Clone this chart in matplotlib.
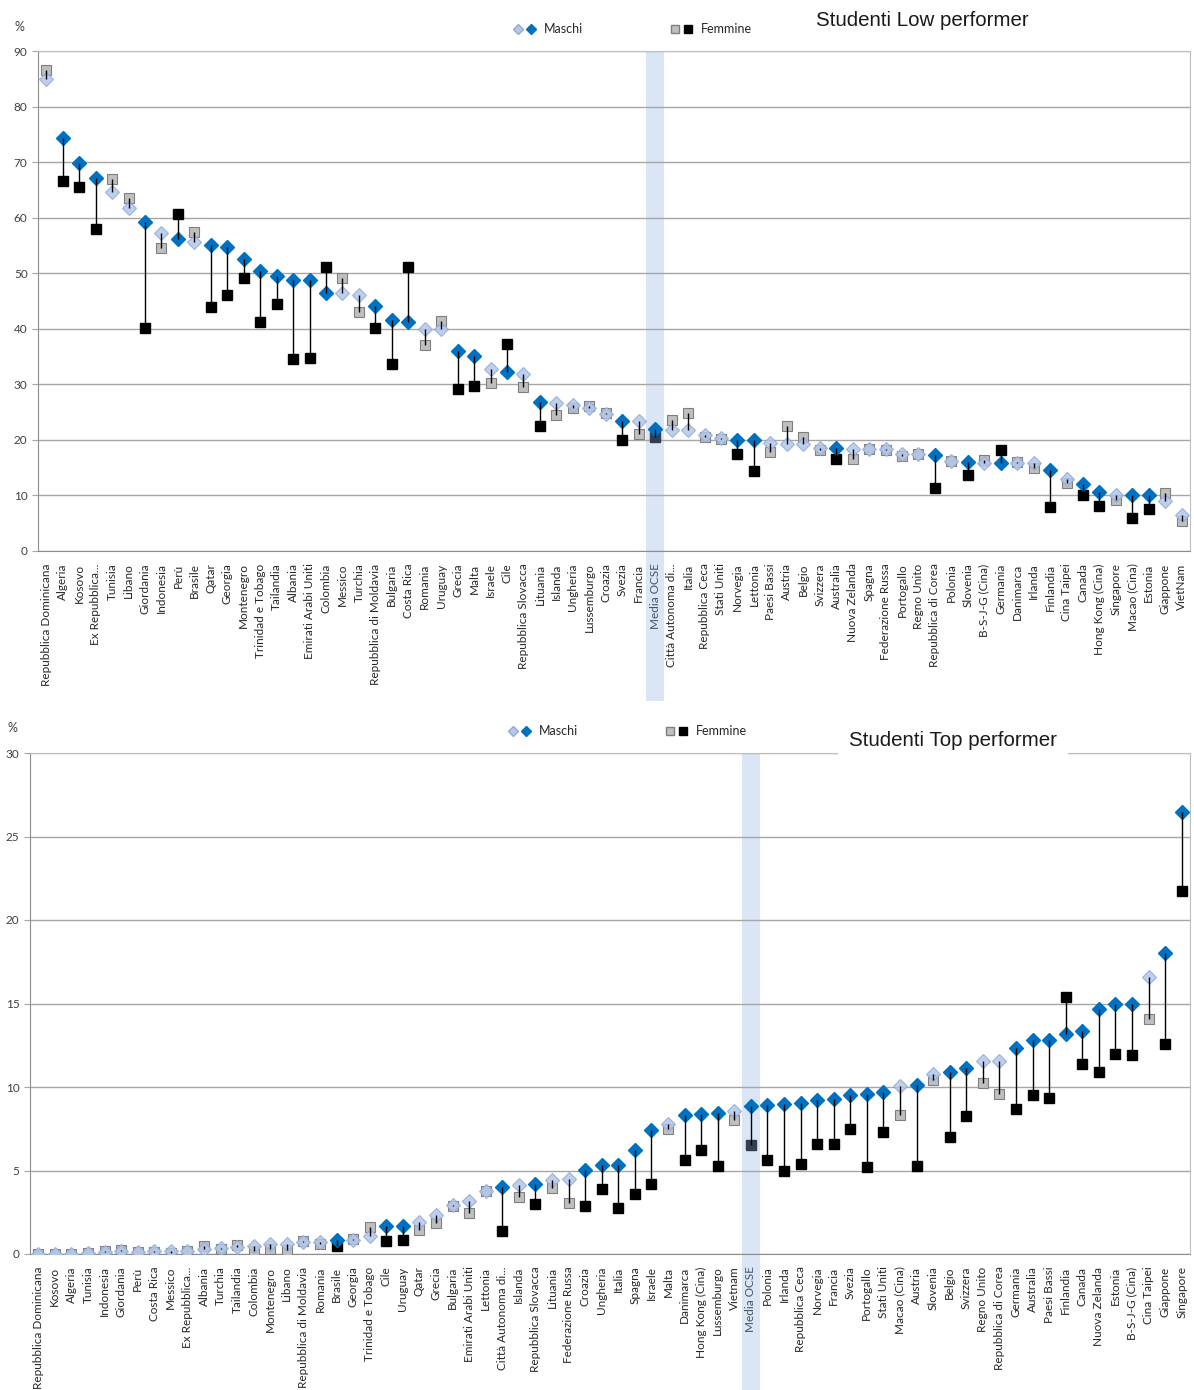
import matplotlib
matplotlib.use("Agg")
import matplotlib.pyplot as plt
from matplotlib.lines import Line2D
from matplotlib.legend_handler import HandlerTuple
from matplotlib.patches import Rectangle
from matplotlib.transforms import blended_transform_factory

# --- Studenti Low performer ---
low_paesi = ["Repubblica Dominicana", "Algeria", "Kosovo", "Ex Repubblica...", "Tunisia", "Libano",
             "Giordania", "Indonesia", "Perù", "Brasile", "Qatar", "Georgia", "Montenegro",
             "Trinidad e Tobago", "Tailandia", "Albania", "Emirati Arabi Uniti", "Colombia", "Messico",
             "Turchia", "Repubblica di Moldavia", "Bulgaria", "Costa Rica", "Romania", "Uruguay",
             "Grecia", "Malta", "Israele", "Cile", "Repubblica Slovacca", "Lituania", "Islanda",
             "Ungheria", "Lussemburgo", "Croazia", "Svezia", "Francia", "Media OCSE",
             "Città Autonoma di...", "Italia", "Repubblica Ceca", "Stati Uniti", "Norvegia", "Lettonia",
             "Paesi Bassi", "Austria", "Belgio", "Svizzera", "Australia", "Nuova Zelanda", "Spagna",
             "Federazione Russa", "Portogallo", "Regno Unito", "Repubblica di Corea", "Polonia",
             "Slovenia", "B-S-J-G (Cina)", "Germania", "Danimarca", "Irlanda", "Finlandia",
             "Cina Taipei", "Canada", "Hong Kong (Cina)", "Singapore", "Macao (Cina)", "Estonia",
             "Giappone", "VietNam"]
low_maschi = [84.9, 74.4, 69.8, 67.1, 64.6, 61.7, 59.2, 57.3, 56.2, 55.7, 55.1, 54.8, 52.5, 50.4,
              49.5, 48.8, 48.8, 46.4, 46.5, 46.0, 44.1, 41.5, 41.2, 40.0, 40.0, 36.0, 35.1, 32.8,
              32.3, 31.9, 26.9, 26.6, 26.2, 25.8, 24.6, 23.4, 23.4, 21.9, 21.8, 21.7, 20.8, 20.3,
              20.0, 20.0, 19.4, 19.2, 19.2, 18.5, 18.5, 18.4, 18.3, 18.3, 17.5, 17.4, 17.2, 16.2,
              16.0, 15.9, 15.9, 15.9, 15.8, 14.6, 12.9, 12.0, 10.7, 10.1, 10.1, 10.0, 9.0, 6.5]
low_femmine = [86.6, 66.6, 65.6, 58.0, 67.0, 63.5, 40.1, 54.6, 60.7, 57.5, 43.9, 46.1, 49.2, 41.3,
               44.4, 34.5, 34.8, 51.2, 49.1, 43.0, 40.2, 33.6, 51.2, 37.1, 41.4, 29.2, 29.7, 30.2,
               37.2, 29.6, 22.5, 24.4, 25.8, 26.1, 24.8, 20.0, 21.0, 20.5, 23.6, 24.9, 20.5, 20.2,
               17.4, 14.4, 17.9, 22.5, 20.5, 18.2, 16.5, 16.6, 18.3, 18.2, 17.1, 17.4, 11.3, 16.2,
               13.7, 16.4, 18.1, 16.0, 15.0, 8.0, 12.3, 10.0, 8.1, 9.2, 5.9, 7.5, 10.4, 5.4]
# 1 = differenza significativa (marcatori pieni), 0 = non significativa (marcatori chiari)
low_sig = [0, 1, 1, 1, 0, 0, 1, 0, 1, 0, 1, 1, 1, 1, 1, 1, 1, 1, 0, 0, 1, 1, 1, 0, 0, 1, 1, 0, 1, 0,
           1, 0, 0, 0, 0, 1, 0, 1, 0, 0, 0, 0, 1, 1, 0, 0, 0, 0, 1, 0, 0, 0, 0, 0, 1, 0, 1, 0, 1, 0,
           0, 1, 0, 1, 1, 0, 1, 1, 0, 0]

# --- Studenti Top performer ---
top_paesi = ["Repubblica Dominicana", "Kosovo", "Algeria", "Tunisia", "Indonesia", "Giordania", "Perù",
             "Costa Rica", "Messico", "Ex Repubblica...", "Albania", "Turchia", "Tailandia", "Colombia",
             "Montenegro", "Libano", "Repubblica di Moldavia", "Romania", "Brasile", "Georgia",
             "Trinidad e Tobago", "Cile", "Uruguay", "Qatar", "Grecia", "Bulgaria",
             "Emirati Arabi Uniti", "Lettonia", "Città Autonoma di...", "Islanda", "Repubblica Slovacca",
             "Lituania", "Federazione Russa", "Croazia", "Ungheria", "Italia", "Spagna", "Israele",
             "Malta", "Danimarca", "Hong Kong (Cina)", "Lussemburgo", "Vietnam", "Media OCSE",
             "Polonia", "Irlanda", "Repubblica Ceca", "Norvegia", "Francia", "Svezia", "Portogallo",
             "Stati Uniti", "Macao (Cina)", "Austria", "Slovenia", "Belgio", "Svizzera", "Regno Unito",
             "Repubblica di Corea", "Germania", "Australia", "Paesi Bassi", "Finlandia", "Canada",
             "Nuova Zelanda", "Estonia", "B-S-J-G (Cina)", "Cina Taipei", "Giappone", "Singapore"]
top_maschi = [0.0, 0.0, 0.0, 0.05, 0.1, 0.15, 0.1, 0.2, 0.15, 0.2, 0.3, 0.35, 0.4, 0.5, 0.6, 0.6,
              0.7, 0.7, 0.85, 0.85, 1.1, 1.65, 1.7, 1.9, 2.35, 2.95, 3.15, 3.8, 4.0, 4.15, 4.2, 4.45,
              4.5, 5.05, 5.3, 5.35, 6.25, 7.45, 7.8, 8.35, 8.4, 8.45, 8.55, 8.85, 8.9, 9.0, 9.05,
              9.25, 9.3, 9.5, 9.6, 9.7, 10.05, 10.1, 10.8, 10.9, 11.15, 11.55, 11.55, 12.35, 12.8,
              12.8, 13.2, 13.35, 14.7, 14.95, 15.0, 16.6, 18.0, 26.45]
top_femmine = [0.0, 0.0, 0.0, 0.05, 0.15, 0.25, 0.1, 0.1, 0.05, 0.15, 0.45, 0.3, 0.55, 0.2, 0.3, 0.25,
               0.75, 0.6, 0.5, 0.9, 1.6, 0.8, 0.85, 1.45, 1.85, 2.9, 2.45, 3.8, 1.35, 3.4, 3.0, 3.95,
               3.05, 2.9, 3.9, 2.75, 3.6, 4.2, 7.5, 5.6, 6.25, 5.25, 8.0, 6.55, 5.65, 4.95, 5.4,
               6.6, 6.6, 7.5, 5.2, 7.3, 8.3, 5.25, 10.4, 7.0, 8.25, 10.25, 9.6, 8.7, 9.55, 9.35,
               15.4, 11.4, 10.9, 12.0, 11.9, 14.1, 12.55, 21.75]
top_sig = [0, 0, 0, 0, 0, 0, 0, 0, 0, 0, 0, 0, 0, 0, 0, 0, 0, 0, 1, 0, 0, 1, 1, 0, 0, 0, 0, 0, 1, 0,
           1, 0, 0, 1, 1, 1, 1, 1, 0, 1, 1, 1, 0, 1, 1, 1, 1, 1, 1, 1, 1, 1, 0, 1, 0, 1, 1, 0, 0, 1,
           1, 1, 1, 1, 1, 1, 1, 0, 1, 1]

BLU = "#0070c0"
BLU_CHIARO = "#b4c7e7"
BLU_BORDO = "#8faadc"
GRIGIO = "#bfbfbf"
GRIGIO_BORDO = "#7f7f7f"
OCSE = "Media OCSE"

plt.rcParams["font.family"] = ["Lato", "DejaVu Sans"]

fig = plt.figure(figsize=(11.94, 13.9), dpi=100)
ax1 = fig.add_axes([38 / 1194, 1 - 551 / 1390, 1152 / 1194, 500 / 1390])
ax2 = fig.add_axes([30 / 1194, 1 - 1254 / 1390, 1160 / 1194, 501 / 1390])


def panel(ax, paesi, maschi, femmine, sig, ymax, step):
    n = len(paesi)
    x = list(range(n))
    ax.set_xlim(-0.5, n - 0.5)
    ax.set_ylim(0, ymax)
    ax.set_axisbelow(True)

    # banda della media OCSE, prolungata sotto le etichette
    i = paesi.index(OCSE)
    trans = blended_transform_factory(ax.transData, ax.transAxes)
    ax.add_patch(Rectangle((i - 0.55, -0.3), 1.1, 1.3, transform=trans, facecolor="#dae5f5",
                           edgecolor="none", clip_on=False, zorder=0.3))

    for k in x:
        if sig[k]:
            col_f = "#333f50" if paesi[k] == OCSE else "black"
            ax.plot(k, femmine[k], "s", ms=7.5, mfc=col_f, mec=col_f, zorder=3)
        else:
            ax.plot(k, femmine[k], "s", ms=7.5, mfc=GRIGIO, mec=GRIGIO_BORDO, mew=0.8, zorder=3)
    for k in x:
        if sig[k]:
            ax.plot(k, maschi[k], "D", ms=7, mfc=BLU, mec=BLU, zorder=4)
        else:
            ax.plot(k, maschi[k], "D", ms=7, mfc=BLU_CHIARO, mec=BLU_BORDO, mew=0.8, alpha=0.85, zorder=4)
    ax.vlines(x, maschi, femmine, color="black", lw=1, zorder=5)

    ax.set_yticks(range(0, ymax + 1, step))
    ax.yaxis.grid(True, color="#a6a6a6", lw=1)
    ax.set_xticks(x)
    ax.set_xticklabels(paesi, rotation=90, fontsize=8.5, color="#262626")
    for lab in ax.get_xticklabels():
        if lab.get_text() == OCSE:
            lab.set_color("#44546a")
    ax.tick_params(axis="x", length=0, pad=9)
    ax.tick_params(axis="y", length=4, color="#a6a6a6", labelsize=8.5, labelcolor="#404040")
    for s in ax.spines.values():
        s.set_color("#bfbfbf")
    ax.spines["left"].set_color("#8c8c8c")
    ax.spines["bottom"].set_color("#8c8c8c")


panel(ax1, low_paesi, low_maschi, low_femmine, low_sig, 90, 10)
panel(ax2, top_paesi, top_maschi, top_femmine, top_sig, 30, 5)


def legenda(y, x):
    h_m = (Line2D([], [], ls="none", marker="D", ms=5.5, mfc=BLU_CHIARO, mec=BLU_BORDO),
           Line2D([], [], ls="none", marker="D", ms=5.5, mfc=BLU, mec=BLU))
    h_f = (Line2D([], [], ls="none", marker="s", ms=5.5, mfc=GRIGIO, mec=GRIGIO_BORDO),
           Line2D([], [], ls="none", marker="s", ms=5.5, mfc="black", mec="black"))
    fig.legend([h_m, h_f], ["Maschi", "Femmine"], handler_map={tuple: HandlerTuple(ndivide=None, pad=0.1)},
               ncol=2, frameon=False, loc="center", bbox_to_anchor=(x, y), fontsize=9,
               handlelength=2.0, handletextpad=0.6, columnspacing=6.8, labelcolor="#262626")


legenda(1 - 29 / 1390, 632 / 1194)
legenda(1 - 731 / 1390, 627 / 1194)

fig.text(922 / 1194, 1 - 20 / 1390, "Studenti Low performer", ha="center", va="center",
         fontsize=14.8, family="Liberation Sans", color="#1a1a1a")
fig.text(953 / 1194, 1 - 740 / 1390, "Studenti Top performer", ha="center", va="center",
         fontsize=14.8, family="Liberation Sans", color="#1a1a1a",
         bbox=dict(facecolor="white", edgecolor="none", pad=8))
fig.text(19 / 1194, 1 - 27 / 1390, "%", ha="center", va="center", fontsize=9, color="#404040")
fig.text(12 / 1194, 1 - 728 / 1390, "%", ha="center", va="center", fontsize=9, color="#404040")

fig.savefig("out.png", dpi=100)
